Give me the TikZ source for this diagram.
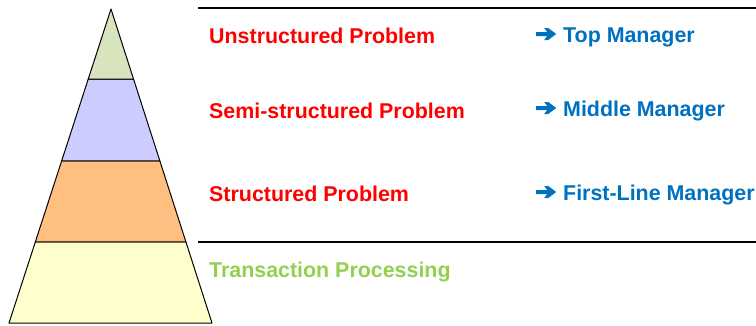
\documentclass[tikz,border=0pt]{standalone}
\usepackage{fontspec}
\setmainfont{Liberation Sans}
\usetikzlibrary{calc}
\definecolor{ProblemRed}{HTML}{FF0000}
\definecolor{ManagerBlue}{HTML}{0070C0}
\definecolor{TransGreen}{HTML}{92D050}
\definecolor{TopNC}{HTML}{D7E4BD}
\definecolor{MidNC}{HTML}{CCCCFF}
\definecolor{LowNC}{HTML}{FFBF80}
\definecolor{BaseNC}{HTML}{FFFFCC}
\newcommand\txtup{Unstructured Problem}
\newcommand\txtsp{Semi-structured Problem}
\newcommand\txtsb{Structured Problem}
\newcommand\txttp{Transaction Processing}
\newcommand\txttm{Top Manager}
\newcommand\txtmm{Middle Manager}
\newcommand\txtfm{First-Line Manager}
\newcommand\goarrow{\tikz[baseline=0pt, x=1pt, y=1pt] \fill[ManagerBlue] (0, 6) -- (11, 6) -- (8, 2) -- (12, 2) -- (20, 8) -- (12, 14) -- (8, 14) -- (11, 10) -- (0, 10) -- cycle;\hspace{7pt}}
\tikzstyle{mylabel} = [anchor=base west, inner sep=0pt, font=\fontsize{21.4}{24}\selectfont\bfseries]
\tikzstyle{pn} = [mylabel, text=ProblemRed]
\tikzstyle{mn} = [mylabel, text=ManagerBlue]
\tikzstyle{tn} = [mylabel, text=TransGreen]
\tikzstyle{band} = [draw=black, line width=1pt, line join=round]
\tikzset{every picture/.style={x=1pt, y=1pt}}

\begin{document}
\begin{tikzpicture}
\useasboundingbox (0, 0) rectangle (756, 325);
\coordinate (apex) at (111, 316);
\coordinate (bl) at (9, 2);
\coordinate (br) at (212, 2);
\coordinate (l1) at ($(bl)!0.258!(apex)$);
\coordinate (r1) at ($(br)!0.258!(apex)$);
\coordinate (l2) at ($(bl)!0.516!(apex)$);
\coordinate (r2) at ($(br)!0.516!(apex)$);
\coordinate (l3) at ($(bl)!0.777!(apex)$);
\coordinate (r3) at ($(br)!0.777!(apex)$);
\filldraw[band, fill=BaseNC] (bl) -- (br) -- (r1) -- (l1) -- cycle;
\filldraw[band, fill=LowNC] (l1) -- (r1) -- (r2) -- (l2) -- cycle;
\filldraw[band, fill=MidNC] (l2) -- (r2) -- (r3) -- (l3) -- cycle;
\filldraw[band, fill=TopNC] (l3) -- (r3) -- (apex) -- cycle;
\coordinate (ta) at (198, 317);
\coordinate (tb) at (756, 317);
\coordinate (ba) at (198, 83);
\coordinate (bb) at (756, 83);
\draw [line width=2pt] (ta) -- (tb);
\draw [line width=2pt] (ba) -- (bb);
\node[pn] (up) at (209, 282) {\txtup};
\node[pn] (sp) at (209, 207) {\txtsp};
\node[pn] (sb) at (209, 124) {\txtsb};
\node[tn] (tp) at (209, 48) {\txttp};
\node[mn] (tm) at (536, 283) {\goarrow\txttm};
\node[mn] (mm) at (536, 209) {\goarrow\txtmm};
\node[mn] (fm) at (536, 125) {\goarrow\txtfm};
\end{tikzpicture}
\end{document}
